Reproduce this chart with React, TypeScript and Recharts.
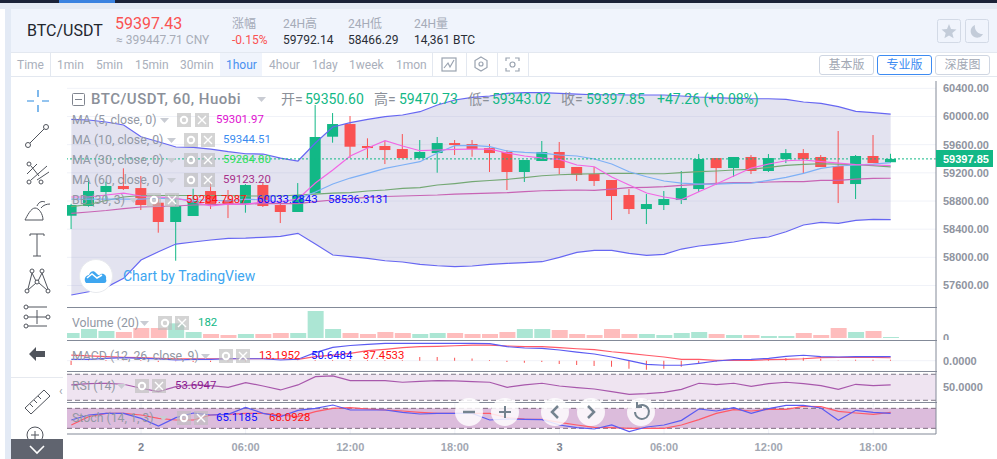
import React from 'react';
import {
  Area,
  Bar,
  CartesianGrid,
  Cell,
  ComposedChart,
  Line,
  ReferenceArea,
  ReferenceLine,
  XAxis,
  YAxis,
} from 'recharts';

const opens = [
  58591, 58729, 58928, 59013, 58984, 58776, 58502, 58587, 58942, 58814, 58757, 59027, 58743, 58644, 58909, 59713,
  59893, 59581, 59581, 59538, 59410, 59481, 59623, 59609, 59552, 59496, 59212, 59368, 59496, 59283, 59183, 59098,
  58885, 58686, 58743, 58814, 58970, 59410, 59268, 59425, 59226, 59396, 59481, 59425, 59297, 59041, 59439, 59350.6,
];
const closes = [
  58743, 58942, 59013, 58970, 58743, 58502, 58729, 58800, 58757, 58757, 59027, 58729, 58644, 58885, 59709, 59893,
  59571, 59552, 59524, 59410, 59496, 59623, 59595, 59538, 59481, 59212, 59382, 59496, 59268, 59169, 59084, 58871,
  58686, 58757, 58828, 58984, 59396, 59268, 59425, 59226, 59410, 59481, 59396, 59283, 59041, 59439, 59339, 59397.85,
];
const highs = [
  58760, 59122, 59074, 59264, 59155, 58861, 58828, 58974, 59060, 58956, 59040, 59055, 58885, 59055, 60163, 60049,
  60007, 59690, 59656, 59751, 59666, 59709, 59666, 59666, 59609, 59524, 59382, 59652, 59638, 59283, 59283, 59098,
  58970, 58899, 58942, 59226, 59467, 59410, 59425, 59453, 59467, 59538, 59538, 59453, 59794, 59453, 59737, 59470.73,
];
const lows = [
  58402, 58719, 58814, 58956, 58672, 58350, 57952, 58600, 58686, 58558, 58634, 58715, 58487, 58644, 58909, 59628,
  59410, 59410, 59325, 59405, 59405, 59202, 59453, 59429, 59212, 58956, 59070, 59368, 59183, 59084, 59013, 58530,
  58615, 58473, 58672, 58757, 58928, 59027, 59141, 59183, 59212, 59339, 59197, 59283, 58771, 58828, 59339, 59343.02,
];
const bbUpper = [
  59960, 59950, 59922, 59879, 59713, 59642, 59567, 59562, 59538, 59500, 59471, 59467, 59410, 59368, 59623, 59851,
  59912, 59960, 59997, 60021, 60068, 60163, 60234, 60272, 60291, 60329, 60338, 60338, 60329, 60319, 60309, 60309,
  60305, 60305, 60305, 60291, 60277, 60269, 60258, 60252, 60252, 60244, 60206, 60187, 60139, 60074, 60054, 60033,
];
const bbLower = [
  57465, 57512, 57574, 57702, 57962, 58080, 58189, 58218, 58246, 58270, 58274, 58284, 58299, 58341, 58189, 58033,
  58009, 57986, 57952, 57934, 57901, 57881, 57867, 57877, 57901, 57915, 57924, 57938, 58000, 58071, 58100, 58100,
  58057, 58029, 58043, 58118, 58161, 58189, 58218, 58264, 58289, 58364, 58459, 58497, 58483, 58526, 58540, 58536,
];
const ma5 = [
  58857, 58857, 58885, 58913, 58871, 58857, 58842, 58786, 58729, 58757, 58757, 58786, 58786, 58828, 59055, 59240,
  59439, 59552, 59656, 59581, 59514, 59524, 59534, 59538, 59538, 59481, 59439, 59410, 59392, 59311, 59287, 59141,
  59027, 58913, 58857, 58821, 58932, 59041, 59155, 59268, 59325, 59372, 59382, 59358, 59339, 59318, 59311, 59301.97,
];
const ma10 = [
  58828, 58828, 58828, 58828, 58828, 58842, 58828, 58814, 58814, 58800, 58828, 58814, 58786, 58828, 58928, 59041,
  59126, 59193, 59264, 59311, 59358, 59481, 59585, 59591, 59571, 59510, 59491, 59481, 59453, 59439, 59396, 59325,
  59216, 59145, 59084, 59055, 59041, 59041, 59051, 59055, 59094, 59136, 59193, 59264, 59297, 59311, 59325, 59344.51,
];
const ma30 = [
  58719, 58750, 58807, 58857, 58878, 58878, 58878, 58878, 58878, 58878, 58871, 58871, 58871, 58885, 58899, 58913,
  58920, 58942, 58956, 58980, 58991, 59027, 59048, 59074, 59091, 59108, 59131, 59159, 59173, 59183, 59187, 59193,
  59193, 59187, 59187, 59202, 59216, 59226, 59240, 59250, 59278, 59307, 59321, 59329, 59325, 59315, 59301, 59284.8,
];
const ma60 = [
  58625, 58644, 58665, 58693, 58715, 58722, 58729, 58743, 58750, 58757, 58757, 58764, 58764, 58764, 58790, 58814,
  58835, 58852, 58864, 58871, 58878, 58885, 58899, 58906, 58913, 58918, 58932, 58946, 58952, 58956, 58952, 58970,
  58989, 58994, 59003, 59023, 59037, 59051, 59060, 59060, 59070, 59074, 59074, 59094, 59094, 59112, 59122, 59123.2,
];
const volumes = [
  900, 1620, 1260, 1080, 1800, 1800, 2640, 1080, 720, 540, 720, 720, 900, 900, 4860, 1620,
  900, 720, 1080, 900, 720, 900, 900, 720, 720, 1080, 1620, 1620, 1440, 720, 540, 1620,
  720, 720, 540, 900, 1080, 720, 540, 540, 360, 360, 900, 540, 1800, 1080, 1260, 182,
];
const macdLine = [
  18, 18, 30, 38, 30, 22, 9, 18, 18, 25, 25, 25, 9, 18, 102, 170,
  193, 208, 221, 221, 221, 221, 221, 221, 217, 178, 161, 157, 136, 110, 85, 47,
  0, -46, -58, -58, -33, -4, 13, 18, 30, 56, 69, 51, 47, 51, 51, 50.65,
];
const macdSignal = [
  72, 60, 51, 43, 38, 30, 22, 25, 25, 25, 25, 25, 25, 18, 51, 72,
  94, 127, 145, 165, 178, 183, 190, 199, 199, 187, 178, 178, 165, 152, 140, 114,
  94, 69, 47, 18, 18, 5, 5, 5, 13, 18, 25, 38, 43, 43, 43, 37.45,
];
const macdHist = [
  -55, -4, 8, 2, 8, -17, -8, -17, -17, -8, -8, -2, -2, -4, 8, 8,
  8, 8, 8, 8, 46, 46, 38, 29, 8, -17, -25, -17, -42, -55, -67, -76,
  -102, -114, -102, -76, -38, -13, 17, 17, 25, 34, 38, 25, 3, 13, 13, 13.2,
];
const rsi = [
  53.6, 55.6, 56.2, 54.6, 48.5, 43.3, 51, 53.6, 52.6, 50, 57.2, 52, 45.9, 53.6, 66.4, 67.4,
  60.3, 60.3, 60.3, 57.7, 59.2, 60.3, 59.7, 58.7, 57.7, 50, 53.6, 56.2, 52, 49.5, 47.4, 43.3,
  39.2, 40.3, 42.3, 46.9, 56.2, 54.1, 56.2, 51.5, 55.6, 57.7, 55.6, 52.6, 46.9, 54.6, 52.6, 53.69,
];
const stochK = [
  45, 60, 65, 65, 50, 27, 52, 66, 60, 62, 83, 65, 55, 74, 80, 90,
  75, 75, 75, 68, 63, 65, 65, 65, 45, 48, 47, 46, 30, 22, 18, 30,
  10, 24, 30, 44, 78, 72, 82, 65, 79, 89, 89, 81, 44, 74, 68, 65.12,
];
const stochD = [
  30, 55, 65, 65, 60, 50, 45, 45, 60, 62, 65, 65, 60, 55, 70, 80,
  82, 78, 75, 72, 68, 65, 65, 65, 65, 52, 48, 47, 38, 30, 23, 22,
  20, 20, 20, 30, 46, 65, 76, 72, 77, 77, 86, 85, 71, 66, 62, 68.09,
];

const priceTicks = [60400, 60000, 59600, 59200, 58800, 58400, 58000, 57600];
const timeTicks = [4, 10, 16, 22, 28, 34, 40, 46];
const timeLabels = ['2', '06:00', '12:00', '18:00', '3', '06:00', '12:00', '18:00'];
const lastClose = 59397.85;

const rows = opens.map((open, i) => ({
  i,
  open,
  close: closes[i],
  high: highs[i],
  low: lows[i],
  bbUpper: bbUpper[i],
  bbLower: bbLower[i],
  ma5: ma5[i],
  ma10: ma10[i],
  ma30: ma30[i],
  ma60: ma60[i],
  volume: volumes[i],
  macd: macdLine[i],
  signal: macdSignal[i],
  hist: macdHist[i],
  rsi: rsi[i],
  k: stochK[i],
  d: stochD[i],
}));

const UP = '#12b886';
const DOWN = '#fa5252';
const GRID = '#f0f2f8';
const AXIS = '#838a98';
const FONT = 'Roboto, "Noto Sans CJK SC", sans-serif';
const X_DOMAIN: [number, number] = [-0.247, 49.6];

function Candle(props: any) {
  const { x, y, width, height, payload } = props;
  const top = Math.min(y, y + height);
  const perUnit = Math.abs(height) / (payload.high - payload.low);
  const yOf = (v: number) => top + (payload.high - v) * perUnit;
  const bodyTop = yOf(Math.max(payload.open, payload.close));
  const bodyBottom = yOf(Math.min(payload.open, payload.close));
  const color = payload.close >= payload.open ? UP : DOWN;
  const mid = x + width / 2;
  return (
    <g>
      <line x1={mid} x2={mid} y1={top} y2={top + Math.abs(height)} stroke={color} strokeWidth={1} />
      <rect x={x} y={bodyTop} width={width} height={Math.max(bodyBottom - bodyTop, 1)} fill={color} />
    </g>
  );
}

function TimeTick(props: any) {
  const { x, y, payload } = props;
  const label = timeLabels[timeTicks.indexOf(payload.value)];
  const isDay = label.length === 1;
  return (
    <text x={x} y={y + 9} textAnchor="middle" fontFamily="Liberation Sans" fontSize={11} fontWeight="bold"
      fill={isDay ? '#7e8490' : '#a2a7b2'}>
      {label}
    </text>
  );
}

const yTick = { fill: '#8f94a0', fontSize: 11, fontFamily: 'Liberation Sans', fontWeight: 'bold' };

function Txt({ x, y, color = '#9298a4', size = 12.3, weight, children, spacing, opacity }: any) {
  return (
    <div style={{
      position: 'absolute', left: x, top: y, transform: 'translateY(-50%)', whiteSpace: 'nowrap', color,
      fontSize: size, fontWeight: weight, fontFamily: FONT, letterSpacing: spacing, opacity, lineHeight: 1,
    }}>
      {children}
    </div>
  );
}

function Box({ x, y, w, h, style }: any) {
  return <div style={{ position: 'absolute', left: x, top: y, width: w, height: h, ...style }} />;
}

function PaneButtons({ x, x2, y }: { x: number; x2: number; y: number }) {
  return (
    <>
      <svg style={{ position: 'absolute', left: x, top: y - 7 }} width={14} height={14}>
        <rect width={14} height={14} fill="#bdbdbd" opacity={0.65} />
        <circle cx={7} cy={7} r={3.2} fill="none" stroke="#fff" strokeWidth={2} />
      </svg>
      <svg style={{ position: 'absolute', left: x2, top: y - 7 }} width={14} height={14}>
        <rect width={14} height={14} fill="#bdbdbd" opacity={0.65} />
        <path d="M3 3L11 11M11 3L3 11" stroke="#fff" strokeWidth={1.4} />
      </svg>
    </>
  );
}

function Caret({ x, y }: { x: number; y: number }) {
  return (
    <svg style={{ position: 'absolute', left: x, top: y - 2 }} width={9} height={5}>
      <path d="M0 0H9L4.5 5Z" fill="#c9ccd3" />
    </svg>
  );
}

function RoundButton({ cx, children }: { cx: number; children: React.ReactNode }) {
  return (
    <svg style={{ position: 'absolute', left: cx - 15, top: 397 }} width={30} height={30}>
      <circle cx={15} cy={15} r={14} fill="#fff" opacity={0.82} />
      <g fill="none" stroke="#74838f" strokeWidth={2}>{children}</g>
    </svg>
  );
}

function Tool({ y, children }: { y: number; children: React.ReactNode }) {
  return (
    <svg style={{ position: 'absolute', left: 23, top: y - 14 }} width={28} height={28}>
      <g fill="none" stroke="#50545c" strokeWidth={1}>{children}</g>
    </svg>
  );
}

function TabButton({ x, label, active }: { x: number; label: string; active?: boolean }) {
  return (
    <div style={{
      position: 'absolute', left: x, top: 55, width: 53, height: 18, border: `1px solid ${active ? '#3d8bf2' : '#cfd6e2'}`,
      borderRadius: 3, textAlign: 'center', fontSize: 12, lineHeight: '18px', fontFamily: FONT,
      color: active ? '#3d8bf2' : '#a2a8b4',
    }}>
      {label}
    </div>
  );
}

function MainPane() {
  return (
    <ComposedChart width={930} height={226} data={rows} margin={{ top: 0, right: 0, bottom: 0, left: 0 }}>
      <CartesianGrid stroke={GRID} syncWithTicks />
      <XAxis dataKey="i" type="number" domain={X_DOMAIN} ticks={timeTicks} allowDataOverflow height={0}
        tick={false} axisLine={false} tickLine={false} />
      <YAxis orientation="right" width={61} type="number" domain={[57295, 60504]} ticks={priceTicks} allowDataOverflow
        interval={0} tick={yTick} tickFormatter={(v: number) => v.toFixed(2)} tickLine={false} tickMargin={1}
        axisLine={{ stroke: AXIS }} />
      <Area dataKey={(d: any) => [d.bbLower, d.bbUpper]} stroke="none" fill="#8f8fc4" fillOpacity={0.25}
        isAnimationActive={false} />
      <Line dataKey="ma60" stroke="#c864b4" dot={false} isAnimationActive={false} strokeWidth={1.2} />
      <Line dataKey="ma30" stroke="#74a874" dot={false} isAnimationActive={false} strokeWidth={1.2} />
      <Line dataKey="ma10" stroke="#7eb0f6" dot={false} isAnimationActive={false} strokeWidth={1.2} />
      <Line dataKey="ma5" stroke="#f266e4" dot={false} isAnimationActive={false} strokeWidth={1.2} />
      <Line dataKey="bbUpper" stroke="#6767f2" dot={false} isAnimationActive={false} strokeWidth={1.2} />
      <Line dataKey="bbLower" stroke="#6767f2" dot={false} isAnimationActive={false} strokeWidth={1.2} />
      <Bar dataKey={(d: any) => [d.low, d.high]} barSize={11} shape={<Candle />} isAnimationActive={false} />
      <ReferenceLine y={lastClose} stroke={UP} strokeDasharray="2 2" />
    </ComposedChart>
  );
}

function VolumePane() {
  return (
    <ComposedChart width={930} height={33} data={rows} margin={{ top: 0, right: 0, bottom: 0, left: 0 }}>
      <CartesianGrid stroke={GRID} horizontal={false} syncWithTicks />
      <XAxis dataKey="i" type="number" domain={X_DOMAIN} ticks={timeTicks} allowDataOverflow height={0}
        tick={false} axisLine={false} tickLine={false} />
      <YAxis orientation="right" width={61} type="number" domain={[-360, 5580]} ticks={[0]} allowDataOverflow
        interval={0} tick={yTick} tickLine={false} tickMargin={1} axisLine={{ stroke: AXIS }} />
      <Bar dataKey="volume" barSize={16} isAnimationActive={false}>
        {rows.map((r) => (
          <Cell key={r.i} fill={r.close >= r.open ? '#ace6d4' : '#febdbd'} />
        ))}
      </Bar>
    </ComposedChart>
  );
}

function MacdPane() {
  return (
    <ComposedChart width={930} height={31} data={rows} margin={{ top: 0, right: 0, bottom: 0, left: 0 }}>
      <CartesianGrid stroke={GRID} syncWithTicks />
      <XAxis dataKey="i" type="number" domain={X_DOMAIN} ticks={timeTicks} allowDataOverflow height={0}
        tick={false} axisLine={false} tickLine={false} />
      <YAxis orientation="right" width={61} type="number" domain={[-131, 263]} ticks={[0]} allowDataOverflow
        interval={0} tick={yTick} tickFormatter={(v: number) => v.toFixed(4)} tickLine={false} tickMargin={1}
        axisLine={{ stroke: AXIS }} />
      <Bar dataKey="hist" barSize={1} fill={DOWN} isAnimationActive={false} />
      <Line dataKey="signal" stroke="#ff5a68" dot={false} isAnimationActive={false} strokeWidth={1.2} />
      <Line dataKey="macd" stroke="#5b5bf2" dot={false} isAnimationActive={false} strokeWidth={1.2} />
    </ComposedChart>
  );
}

function RsiPane() {
  return (
    <ComposedChart width={930} height={31} data={rows} margin={{ top: 0, right: 0, bottom: 0, left: 0 }}>
      <CartesianGrid stroke={GRID} syncWithTicks />
      <XAxis dataKey="i" type="number" domain={X_DOMAIN} ticks={timeTicks} allowDataOverflow height={0}
        tick={false} axisLine={false} tickLine={false} />
      <YAxis orientation="right" width={61} type="number" domain={[27.4, 75]} ticks={[50]} allowDataOverflow
        interval={0} tick={yTick} tickFormatter={(v: number) => v.toFixed(4)} tickLine={false} tickMargin={1}
        axisLine={{ stroke: AXIS }} />
      <ReferenceArea y1={30} y2={70} fill="#efe4f1" fillOpacity={1} stroke="none" />
      <ReferenceLine y={70} stroke="#7f7a88" strokeDasharray="5 3" />
      <ReferenceLine y={30} stroke="#7f7a88" strokeDasharray="5 3" />
      <Line dataKey="rsi" stroke="#a858ac" dot={false} isAnimationActive={false} strokeWidth={1.2} />
    </ComposedChart>
  );
}

function StochPane() {
  return (
    <ComposedChart width={930} height={57} data={rows} margin={{ top: 0, right: 0, bottom: 0, left: 0 }}>
      <CartesianGrid stroke={GRID} syncWithTicks />
      <XAxis dataKey="i" type="number" domain={X_DOMAIN} ticks={timeTicks} interval={0} allowDataOverflow height={25}
        tick={<TimeTick />} axisLine={{ stroke: AXIS }} tickLine={false} />
      <YAxis orientation="right" width={61} type="number" domain={[3, 99]} ticks={[]} allowDataOverflow
        tick={false} tickLine={false} axisLine={{ stroke: AXIS }} />
      <ReferenceArea y1={20} y2={80} fill="#dcbcdc" fillOpacity={1} stroke="none" />
      <ReferenceLine y={80} stroke="#7f6c80" strokeDasharray="5 3" />
      <ReferenceLine y={20} stroke="#7f6c80" strokeDasharray="5 3" />
      <Line dataKey="d" stroke="#ff5a68" dot={false} isAnimationActive={false} strokeWidth={1.2} />
      <Line dataKey="k" stroke="#5b5bf2" dot={false} isAnimationActive={false} strokeWidth={1.2} />
    </ComposedChart>
  );
}

function Pane({ top, children }: { top: number; children: React.ReactNode }) {
  return <div style={{ position: 'absolute', left: 67, top }}>{children}</div>;
}

export default function App() {
  return (
    <div style={{ position: 'absolute', left: 0, top: 0, width: 997, height: 459, overflow: 'hidden', background: '#fff' }}>
      {/* page frame */}
      <Box x={0} y={0} w={997} h={9} style={{ background: '#e4eaf4' }} />
      <Box x={0} y={0} w={997} h={3} style={{ background: '#1a2238' }} />
      <Box x={59} y={0} w={56} h={3} style={{ background: '#3a82e0' }} />
      <Box x={5} y={9} w={6} h={450} style={{ background: '#e3eaf5' }} />

      {/* ticker header */}
      <Box x={11} y={9} w={986} h={43} style={{ background: '#f0f4fc' }} />
      <Box x={11} y={52} w={986} h={1} style={{ background: '#e3e8f0' }} />
      <Txt x={27} y={31} size={16} color="#22262e">BTC/USDT</Txt>
      <Txt x={115} y={24} size={16} color={DOWN}>59397.43</Txt>
      <Txt x={116} y={40} size={12} color="#a8adb8">≈ 399447.71 CNY</Txt>
      <Txt x={232} y={24} size={12} color="#a5abb8">涨幅</Txt>
      <Txt x={232} y={40} size={12} color={DOWN}>-0.15%</Txt>
      <Txt x={283} y={24} size={12} color="#a5abb8">24H高</Txt>
      <Txt x={283} y={40} size={12} color="#2a2e36">59792.14</Txt>
      <Txt x={348} y={24} size={12} color="#a5abb8">24H低</Txt>
      <Txt x={348} y={40} size={12} color="#2a2e36">58466.29</Txt>
      <Txt x={414} y={24} size={12} color="#a5abb8">24H量</Txt>
      <Txt x={414} y={40} size={12} color="#2a2e36">14,361 BTC</Txt>
      <svg style={{ position: 'absolute', left: 937, top: 19 }} width={52} height={24}>
        <rect x={0.5} y={0.5} width={23} height={23} rx={2} fill="#f0f4fc" stroke="#d3dae6" />
        <rect x={28.5} y={0.5} width={23} height={23} rx={2} fill="#f0f4fc" stroke="#d3dae6" />
        <path d="M12 5l2 5 5.500.4-4.200 3.500 1.300 5.300L12 16.400l-4.600 2.800 1.300-5.300-4.200-3.500 5.500-.4z" fill="#c3ccd9" />
        <path d="M38 6a6.500 6.500 0 1 0 8 9a7.500 7.500 0 0 1-8-9z" fill="#c3ccd9" />
      </svg>

      {/* interval tabs */}
      <Box x={11} y={76} w={986} h={1} style={{ background: '#e3e8f0' }} />
      <Box x={220} y={53} w={42} h={23} style={{ background: '#f0f4fc' }} />
      {[50, 432, 466, 497, 528].map((x) => (
        <Box key={x} x={x} y={53} w={1} h={23} style={{ background: '#e3e8f0' }} />
      ))}
      <Txt x={17} y={65} size={12} color="#a9afbb">Time</Txt>
      <Txt x={57} y={65} size={12} color="#a9afbb">1min</Txt>
      <Txt x={96} y={65} size={12} color="#a9afbb">5min</Txt>
      <Txt x={135} y={65} size={12} color="#a9afbb">15min</Txt>
      <Txt x={180} y={65} size={12} color="#a9afbb">30min</Txt>
      <Txt x={226} y={65} size={12} color="#4a90f0">1hour</Txt>
      <Txt x={269} y={65} size={12} color="#a9afbb">4hour</Txt>
      <Txt x={312} y={65} size={12} color="#a9afbb">1day</Txt>
      <Txt x={349} y={65} size={12} color="#a9afbb">1week</Txt>
      <Txt x={396} y={65} size={12} color="#a9afbb">1mon</Txt>
      <svg style={{ position: 'absolute', left: 440, top: 56 }} width={84} height={18}>
        <g fill="none" stroke="#9aa3b0" strokeWidth={1.2}>
          <rect x={2} y={2} width={14} height={13} />
          <path d="M4 12L8 7l2 4 4-7" />
          <path d="M41 1l6 3.500v7l-6 3.500-6-3.500v-7z" />
          <circle cx={41} cy={8} r={2} />
          <path d="M66 5V2h4M75 2h4v3M79 12v3h-4M70 15h-4v-3" />
          <circle cx={72.500} cy={8.500} r={2.500} />
        </g>
      </svg>
      <TabButton x={819} label="基本版" />
      <TabButton x={877} label="专业版" active />
      <TabButton x={935} label="深度图" />

      {/* chart panes */}
      <Pane top={81}><MainPane /></Pane>
      <Pane top={307}><VolumePane /></Pane>
      <Pane top={340}><MacdPane /></Pane>
      <Pane top={371}><RsiPane /></Pane>
      <Pane top={402}><StochPane /></Pane>
      {[307, 340, 371, 402].map((y) => (
        <Box key={y} x={67} y={y} w={870} h={1} style={{ background: AXIS }} />
      ))}

      {/* price tag */}
      <Box x={936} y={150} w={57} h={17} style={{ background: UP }} />
      <Txt x={943} y={158.5} size={11} color="#fff" weight="bold">
        <span style={{ fontFamily: 'Liberation Sans' }}>59397.85</span>
      </Txt>

      {/* symbol legend */}
      <svg style={{ position: 'absolute', left: 72, top: 93 }} width={13} height={13}>
        <rect x={0.5} y={0.5} width={12} height={12} rx={1} fill="none" stroke="#80858f" />
        <path d="M3 6.500H10" stroke="#80858f" />
      </svg>
      <Txt x={91} y={99} size={15} weight={500} color="#8b9099" spacing={0.5}>BTC/USDT, 60, Huobi</Txt>
      <Caret x={257} y={99} />
      <Txt x={281} y={99} size={14} color="#8b9099">开=</Txt>
      <Txt x={305} y={99} size={14} color={UP}>59350.60</Txt>
      <Txt x={374} y={99} size={14} color="#8b9099">高=</Txt>
      <Txt x={399} y={99} size={14} color={UP}>59470.73</Txt>
      <Txt x={468} y={99} size={14} color="#8b9099">低=</Txt>
      <Txt x={492} y={99} size={14} color={UP}>59343.02</Txt>
      <Txt x={561} y={99} size={14} color="#8b9099">收=</Txt>
      <Txt x={586} y={99} size={14} color={UP}>59397.85</Txt>
      <Txt x={657} y={99} size={14} color={UP}>+47.26 (+0.08%)</Txt>

      {/* study legends */}
      <Txt x={72} y={120}>MA (5, close, 0)</Txt>
      <Caret x={160} y={120} />
      <PaneButtons x={177} x2={195} y={120} />
      <Txt x={216} y={120} size={11.4} color="#e010d0">59301.97</Txt>
      <Txt x={72} y={140}>MA (10, close, 0)</Txt>
      <Caret x={167} y={140} />
      <PaneButtons x={184} x2={201} y={140} />
      <Txt x={223} y={140} size={11.4} color="#3c8cf0">59344.51</Txt>
      <Txt x={72} y={160}>MA (30, close, 0)</Txt>
      <Caret x={167} y={160} />
      <PaneButtons x={184} x2={201} y={160} />
      <Txt x={223} y={160} size={11.4} color="#2fe060">59284.80</Txt>
      <Txt x={72} y={180}>MA (60, close, 0)</Txt>
      <Caret x={167} y={180} />
      <PaneButtons x={184} x2={201} y={180} />
      <Txt x={223} y={180} size={11.4} color="#a8308a">59123.20</Txt>
      <Txt x={72} y={200}>BB (30, 3)</Txt>
      <Caret x={129} y={200} />
      <PaneButtons x={147} x2={165} y={200} />
      <Txt x={186} y={200} size={11.4} color="#ff1010">59284.7987</Txt>
      <Txt x={257} y={200} size={11.4} color="#1010ff">60033.2843</Txt>
      <Txt x={328} y={200} size={11.4} color="#1010ff">58536.3131</Txt>
      <Txt x={72} y={323}>Volume (20)</Txt>
      <Caret x={140} y={323} />
      <PaneButtons x={158} x2={175} y={323} />
      <Txt x={198} y={323} size={11.4} color={UP}>182</Txt>
      <Txt x={72} y={356}>MACD (12, 26, close, 9)</Txt>
      <Caret x={201} y={356} />
      <PaneButtons x={219} x2={236} y={356} />
      <Txt x={259} y={356} size={11.4} color="#ff1010">13.1952</Txt>
      <Txt x={311} y={356} size={11.4} color="#1010ff">50.6484</Txt>
      <Txt x={363} y={356} size={11.4} color="#ff1010">37.4533</Txt>
      <Txt x={72} y={386}>RSI (14)</Txt>
      <Caret x={117} y={386} />
      <PaneButtons x={135} x2={152} y={386} />
      <Txt x={175} y={386} size={11.4} color="#8c1b90">53.6947</Txt>
      <Txt x={72} y={418}>Stoch (14, 1, 3)</Txt>
      <Caret x={159} y={418} />
      <PaneButtons x={177} x2={194} y={418} />
      <Txt x={216} y={418} size={11.4} color="#1010ff">65.1185</Txt>
      <Txt x={269} y={418} size={11.4} color="#ff1010">68.0928</Txt>

      {/* watermark */}
      <svg style={{ position: 'absolute', left: 79, top: 259 }} width={34} height={34}>
        <circle cx={17} cy={17} r={16.500} fill="#fff" stroke="#e8eaee" />
        <path d="M7 24c-3-4 0-8 3-8 1-4 5-5 7-2 2 2 3 3 5 1 3-1 6 2 5 5 1 2 0 4-2 4z" fill="#3ea6f0" />
        <path d="M8 19l5-4 5 4 5-3" fill="none" stroke="#fff" strokeWidth={1.5} />
      </svg>
      <Txt x={123} y={276} size={14} color="#3ea6f0">Chart by TradingView</Txt>

      {/* pan and zoom buttons */}
      <RoundButton cx={469}><path d="M9 15H21" strokeWidth={2.500} /></RoundButton>
      <RoundButton cx={505}><path d="M15 9V21M9 15H21" /></RoundButton>
      <RoundButton cx={555}><path d="M18 9L12 15L18 21" strokeWidth={2.500} /></RoundButton>
      <RoundButton cx={591}><path d="M12 9L18 15L12 21" strokeWidth={2.500} /></RoundButton>
      <RoundButton cx={641}><path d="M11 10A7 7 0 1 1 9 15M11 5V10H16" /></RoundButton>

      {/* drawing toolbar */}
      <svg style={{ position: 'absolute', left: 25, top: 88 }} width={26} height={26}>
        <path d="M13 2V9M13 17V24M2 13H9M17 13H24" stroke="#2a8ae0" strokeWidth={1.2} />
      </svg>
      <Tool y={136}>
        <circle cx={5} cy={23} r={2.500} /><circle cx={23} cy={5} r={2.500} /><path d="M7 21L21 7" />
      </Tool>
      <Tool y={172}>
        <circle cx={6} cy={6} r={2} /><circle cx={6} cy={24} r={2} /><circle cx={18} cy={24} r={2} />
        <path d="M8 8L16 18M8 22L24 8M4 16L14 6M14 22L26 14" />
      </Tool>
      <Tool y={210}>
        <path d="M2 24H20C20 18 16 12 12 12C8 12 4 20 2 24ZM14 10C16 5 20 5 22 6M18 12C20 9 24 8 27 8" />
      </Tool>
      <Tool y={245}>
        <path d="M7 3H21M14 3V25M10 25H18M7 3V5M21 3V5" />
      </Tool>
      <Tool y={281}>
        <circle cx={4} cy={24} r={2} /><circle cx={9} cy={4} r={2} /><circle cx={14} cy={15} r={2} />
        <circle cx={19} cy={4} r={2} /><circle cx={25} cy={24} r={2} />
        <path d="M5 22L9 6L13 14M15 14L19 6L25 22M5 23L13 16M16 16L24 23" />
      </Tool>
      <Tool y={317}>
        <circle cx={3} cy={4} r={2} /><circle cx={3} cy={14} r={2} /><circle cx={3} cy={23} r={2} />
        <circle cx={25} cy={14} r={2} />
        <path d="M5 4H24M5 14H23M5 23H24M14 7V21" />
      </Tool>
      <svg style={{ position: 'absolute', left: 28, top: 346 }} width={18} height={16}>
        <path d="M8 1L1 8L8 15V11H17V5H8Z" fill="#50545c" />
      </svg>
      <Box x={11} y={377} w={52} h={1} style={{ background: '#e6e9ef' }} />
      <Txt x={59} y={391} size={12} color="#9aa0aa">‹</Txt>
      <Tool y={401}>
        <path d="M2 21L21 3L27 9L8 27ZM7 17L10 20M11 13L14 16M15 9L18 12" />
      </Tool>
      <Tool y={437}>
        <circle cx={12} cy={12} r={8} /><path d="M8 12H16M12 8V16M18 18L25 25" />
      </Tool>
      <Box x={11} y={439} w={52} h={20} style={{ background: '#60646f' }} />
      <svg style={{ position: 'absolute', left: 28, top: 444 }} width={18} height={12}>
        <path d="M2 2L9 9L16 2" fill="none" stroke="#fff" strokeWidth={1.6} />
      </svg>
    </div>
  );
}
